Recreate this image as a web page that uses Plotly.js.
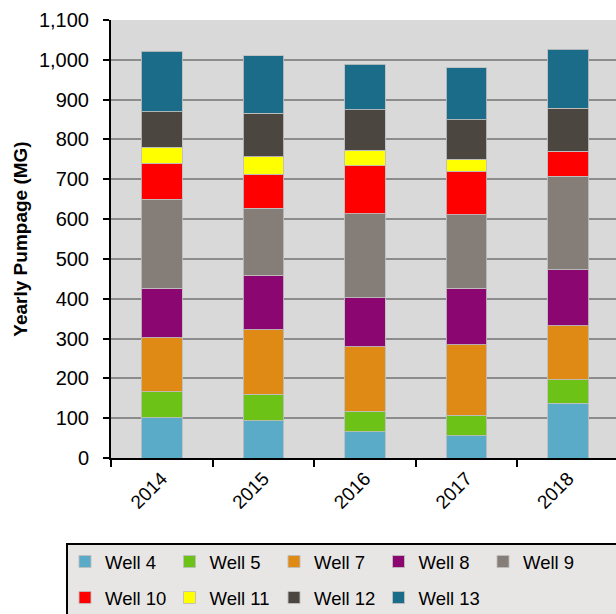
<!DOCTYPE html>
<html>
<head>
<meta charset="utf-8">
<script src="https://cdn.plot.ly/plotly-3.0.1.min.js"></script>
<style>
html,body{margin:0;padding:0;overflow:hidden;background:#fff;}
#chart{width:620px;height:614px;}
</style>
</head>
<body>
<div id="chart"></div>
<script>
const years = ['2014', '2015', '2016', '2017', '2018'];
const well4  = [101, 93, 66, 56, 138];
const well5  = [66, 67, 52, 52, 59];
const well7  = [135, 162, 161, 176, 135];
const well8  = [124, 137, 124, 142, 141];
const well9  = [224, 168, 211, 185, 234];
const well10 = [90, 86, 120, 109, 64];
const well11 = [41, 43, 39, 30, 0];
const well12 = [88, 110, 101, 100, 108];
const well13 = [153, 144, 115, 130, 147];

const seriesNames = ['Well 4','Well 5','Well 7','Well 8','Well 9','Well 10','Well 11','Well 12','Well 13'];
const seriesData = [well4, well5, well7, well8, well9, well10, well11, well12, well13];
const seriesColors = ['#5aabc8','#6cc217','#e08a16','#8b0670','#857d77','#ff0000','#ffff00','#4b4640','#1b6c88'];
const seriesLegend = ['legend','legend','legend','legend','legend3','legend2','legend2','legend2','legend2'];

const FONT = 'Liberation Sans, Arial, sans-serif';
const W = 620, H = 614;

const traces = seriesNames.map((n, i) => ({
  type: 'bar',
  name: n,
  x: years,
  y: seriesData[i],
  marker: {color: seriesColors[i], line: {color: 'rgba(190,190,190,0.9)', width: 1}},
  legend: seriesLegend[i],
  hoverinfo: 'skip'
}));

const plotL = 111, plotR = 619, plotT = 20, plotB = 458;
const pw = plotR - plotL, ph = plotB - plotT;
const px2x = p => (p - plotL) / pw;
const px2y = p => (plotB - p) / ph;

const STEP = 104.5, LX = 65;
const legendCommon = {
  orientation: 'h',
  bgcolor: 'rgba(0,0,0,0)',
  borderwidth: 0,
  font: {family: FONT, size: 18.5, color: '#000'},
  entrywidth: STEP - 45,
  entrywidthmode: 'pixels',
  traceorder: 'normal',
  xref: 'container',
  yref: 'container',
  xanchor: 'left',
  yanchor: 'middle',
  x: LX / W
};

const layout = {
  width: W,
  height: H,
  margin: {l: plotL, r: W - plotR, t: plotT, b: H - plotB},
  paper_bgcolor: '#ffffff',
  plot_bgcolor: '#d9d9d9',
  barmode: 'stack',
  bargap: 0.6,
  showlegend: true,
  font: {family: FONT, color: '#000'},
  xaxis: {
    type: 'category',
    tickson: 'boundaries',
    ticks: 'outside',
    ticklen: 7,
    tickwidth: 2,
    tickcolor: '#000',
    showline: true,
    linecolor: '#000',
    linewidth: 2,
    showgrid: false,
    tickangle: -45,
    tickfont: {family: FONT, size: 19, color: '#000'},
    fixedrange: true
  },
  yaxis: {
    range: [0, 1100],
    dtick: 100,
    tick0: 0,
    tickformat: ',d',
    ticks: 'outside',
    ticklen: 6,
    tickwidth: 2,
    tickcolor: '#000',
    showline: true,
    linecolor: '#000',
    linewidth: 2,
    showgrid: true,
    gridcolor: '#8c8c8c',
    gridwidth: 2,
    zeroline: false,
    ticklabelstandoff: 10,
    tickfont: {family: FONT, size: 20, color: '#000'},
    title: {text: 'Yearly Pumpage (MG)', font: {family: FONT, size: 19, color: '#000', weight: 'bold'}, standoff: 6},
    fixedrange: true
  },
  legend: Object.assign({}, legendCommon, {y: 1 - 562 / H}),
  legend3: Object.assign({}, legendCommon, {y: 1 - 562 / H, x: (LX + 4 * STEP) / W}),
  legend2: Object.assign({}, legendCommon, {y: 1 - 598 / H}),
  shapes: [{
    type: 'rect', xref: 'paper', yref: 'paper',
    x0: px2x(67), x1: px2x(640), y0: px2y(544), y1: px2y(640),
    fillcolor: '#e8e6e4', line: {color: '#000', width: 2}, layer: 'below'
  }]
};

Plotly.newPlot('chart', traces, layout, {displayModeBar: false, staticPlot: true});
</script>
</body>
</html>
